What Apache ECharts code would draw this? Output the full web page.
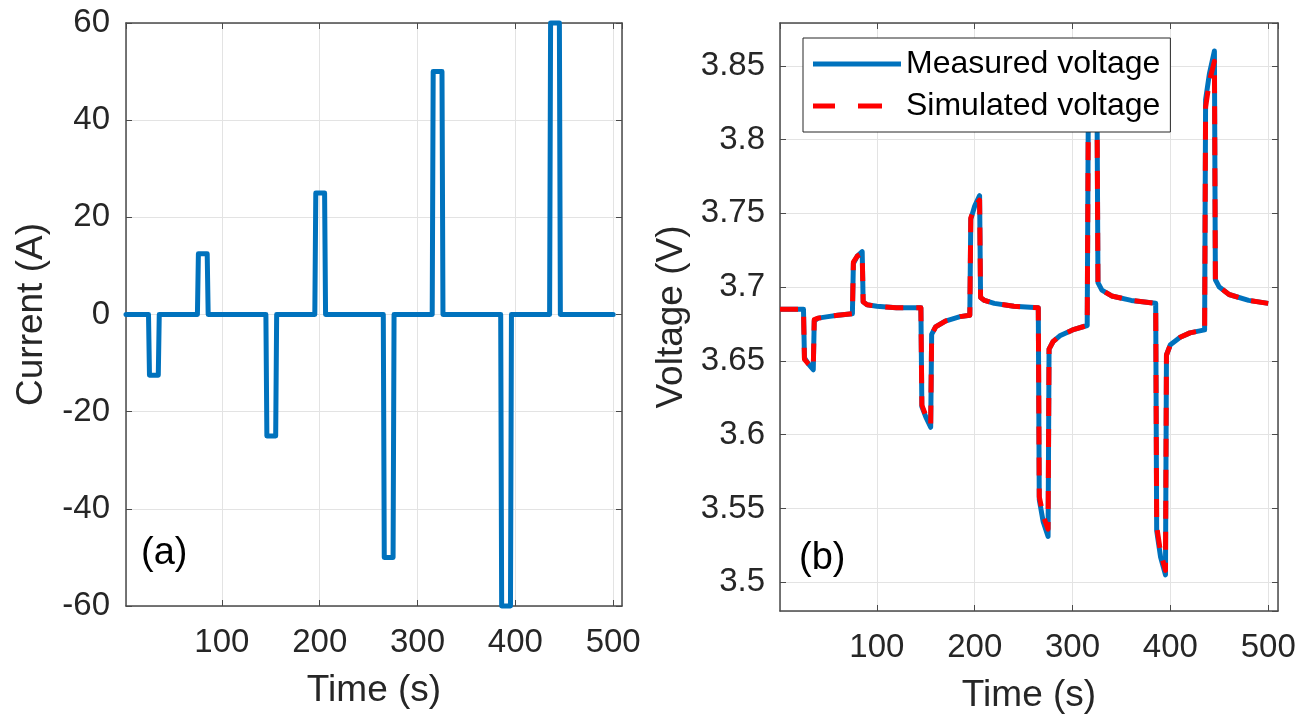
<!DOCTYPE html>
<html>
<head>
<meta charset="utf-8">
<script src="https://cdn.jsdelivr.net/npm/echarts@6/dist/echarts.min.js"></script>
<style>
  html, body { margin: 0; padding: 0; background: #fff; }
  #chart { width: 1309px; height: 723px; }
</style>
</head>
<body>
<div id="chart"></div>
<script>
// ---- data ----
// (a) current pulse profile
const curTime  = [2, 25, 26, 35, 36, 75, 76, 85, 86, 145, 146, 155, 156, 195, 196, 205, 206,
                  265, 266, 275, 276, 315, 316, 325, 326, 385, 386, 395, 396, 435, 436, 445, 446, 500]
const curValue = [0, 0, -12.5, -12.5, 0, 0, 12.5, 12.5, 0, 0, -25, -25, 0, 0, 25, 25, 0,
                  0, -50, -50, 0, 0, 50, 50, 0, 0, -60, -60, 0, 0, 60, 60, 0, 0]

// (b) terminal voltage, measured vs simulated (same time stamps)
const voltTime = [1, 25, 26, 30, 35, 36, 40, 50, 60, 75, 76, 80, 85, 86, 90, 100, 120, 145,
                  146, 150, 155, 156, 160, 170, 185, 195, 196, 200, 205, 206, 210, 220, 240, 265,
                  266, 270, 275, 276, 280, 287, 300, 315, 316, 320, 325, 326, 330, 340, 360, 385,
                  386, 390, 395, 396, 400, 410, 420, 435, 436, 440, 445, 446, 450, 460, 480, 500]
const voltMeasured = [3.685, 3.685, 3.652, 3.648, 3.644, 3.677, 3.679, 3.680, 3.681, 3.682,
                      3.716, 3.721, 3.724, 3.690, 3.688, 3.687, 3.686, 3.686,
                      3.619, 3.612, 3.605, 3.668, 3.673, 3.677, 3.680, 3.681,
                      3.746, 3.755, 3.762, 3.693, 3.691, 3.689, 3.687, 3.686,
                      3.556, 3.541, 3.531, 3.658, 3.663, 3.667, 3.671, 3.674,
                      3.805, 3.818, 3.828, 3.703, 3.698, 3.694, 3.691, 3.689,
                      3.535, 3.517, 3.505, 3.654, 3.661, 3.666, 3.669, 3.671,
                      3.827, 3.845, 3.860, 3.705, 3.700, 3.695, 3.691, 3.689]
const voltSimulated = [3.685, 3.685, 3.651, 3.648, 3.645, 3.678, 3.679, 3.680, 3.681, 3.682,
                       3.717, 3.721, 3.723, 3.690, 3.688, 3.687, 3.686, 3.686,
                       3.620, 3.613, 3.607, 3.668, 3.673, 3.677, 3.680, 3.681,
                       3.747, 3.754, 3.759, 3.693, 3.691, 3.689, 3.687, 3.686,
                       3.558, 3.545, 3.536, 3.658, 3.663, 3.667, 3.671, 3.674,
                       3.803, 3.815, 3.824, 3.703, 3.698, 3.694, 3.691, 3.689,
                       3.538, 3.520, 3.508, 3.654, 3.661, 3.666, 3.669, 3.671,
                       3.822, 3.840, 3.853, 3.705, 3.700, 3.695, 3.691, 3.689]

const currentTicks = { min: -60, max: 60, interval: 20 }
const timeRangeA = [2, 509]
const timeRangeB = [1, 510]
const voltRange = [3.4805, 3.879]

// ---- styling ----
const FONT = "'Liberation Sans', Arial, Helvetica, sans-serif"
const TEXT = '#262626'
const BLUE = '#0072BD'
const RED = '#FF0000'
const LW = 5

// legend glyphs: solid bar / two dashes (last zero-width stub keeps the full width)
const ICON_SOLID = 'path://M0,0H88V5H0Z'
const ICON_DASH = 'path://M0,0H22V5H0Z M45,0H69V5H45Z M88,0L88,5'

const pair = (xs, ys) => xs.map((x, i) => [x, ys[i]])

const axisLine = { show: true, onZero: false, lineStyle: { color: '#4a4a4a', width: 1.5 } }
const tick = { show: true, inside: true, length: 6, lineStyle: { color: '#4a4a4a', width: 1 } }
const grid = { show: true, lineStyle: { color: '#e3e3e3', width: 1 } }

function timeAxis(gridIndex, range, position) {
  const main = position === 'bottom'
  return {
    type: 'value', gridIndex, position,
    min: range[0], max: range[1], splitNumber: 5,
    name: main ? 'Time (s)' : '', nameLocation: 'middle', nameGap: 66,
    nameTextStyle: { fontFamily: FONT, fontSize: 37, color: TEXT },
    axisLine, axisTick: tick,
    axisLabel: {
      show: main, margin: 20, fontFamily: FONT, fontSize: 33, color: TEXT,
      showMinLabel: false, showMaxLabel: false
    },
    splitLine: main ? grid : { show: false }
  }
}

const chart = echarts.init(document.getElementById('chart'), null, { renderer: 'canvas' })

chart.setOption({
  animation: false,
  backgroundColor: '#fff',
  textStyle: { fontFamily: FONT },
  grid: [
    { left: 126, top: 23, width: 496, height: 583 },
    { left: 780, top: 23, width: 498, height: 588 }
  ],
  xAxis: [
    timeAxis(0, timeRangeA, 'bottom'),
    timeAxis(0, timeRangeA, 'top'),
    timeAxis(1, timeRangeB, 'bottom'),
    timeAxis(1, timeRangeB, 'top')
  ],
  yAxis: [
    {
      type: 'value', gridIndex: 0, position: 'left', ...currentTicks,
      name: 'Current (A)', nameLocation: 'middle', nameGap: 76,
      nameTextStyle: { fontFamily: FONT, fontSize: 37, color: TEXT },
      axisLine, axisTick: tick,
      axisLabel: { margin: 16, fontFamily: FONT, fontSize: 33, color: TEXT },
      splitLine: grid
    },
    {
      type: 'value', gridIndex: 0, position: 'right', ...currentTicks,
      axisLine, axisTick: tick, axisLabel: { show: false }, splitLine: { show: false }
    },
    {
      type: 'value', gridIndex: 1, position: 'left',
      min: voltRange[0], max: voltRange[1], splitNumber: 8,
      name: 'Voltage (V)', nameLocation: 'middle', nameGap: 90,
      nameTextStyle: { fontFamily: FONT, fontSize: 37, color: TEXT },
      axisLine, axisTick: tick,
      axisLabel: {
        margin: 15, fontFamily: FONT, fontSize: 33, color: TEXT,
        showMinLabel: false, showMaxLabel: false
      },
      splitLine: grid
    },
    {
      type: 'value', gridIndex: 1, position: 'right',
      min: voltRange[0], max: voltRange[1], splitNumber: 8,
      axisLine, axisTick: tick, axisLabel: { show: false }, splitLine: { show: false }
    }
  ],
  legend: {
    orient: 'vertical', left: 803, top: 38,
    padding: [8, 10, 8, 10], itemGap: 6,
    itemWidth: 88, itemHeight: 5,
    backgroundColor: '#fff', borderColor: '#262626', borderWidth: 1, borderRadius: 0,
    textStyle: { fontFamily: FONT, fontSize: 32, color: '#000', lineHeight: 36 },
    data: [
      { name: 'Measured voltage', icon: ICON_SOLID },
      { name: 'Simulated voltage', icon: ICON_DASH }
    ]
  },
  graphic: [
    { type: 'text', left: 141, top: 535, style: { text: '(a)', font: '38px ' + FONT, fill: '#000' } },
    { type: 'text', left: 799, top: 540, style: { text: '(b)', font: '38px ' + FONT, fill: '#000' } }
  ],
  series: [
    {
      name: 'Current', type: 'line', xAxisIndex: 0, yAxisIndex: 0,
      data: pair(curTime, curValue), symbol: 'none', clip: false,
      lineStyle: { color: BLUE, width: LW, join: 'round', cap: 'round' }
    },
    {
      name: 'Measured voltage', type: 'line', xAxisIndex: 2, yAxisIndex: 2,
      data: pair(voltTime, voltMeasured), symbol: 'none', clip: false,
      itemStyle: { color: BLUE },
      lineStyle: { color: BLUE, width: LW, join: 'round' }
    },
    {
      name: 'Simulated voltage', type: 'line', xAxisIndex: 2, yAxisIndex: 2,
      data: pair(voltTime, voltSimulated), symbol: 'none', clip: false,
      itemStyle: { color: RED },
      lineStyle: { color: RED, width: LW, type: [18, 13], join: 'round' }
    }
  ]
})
</script>
</body>
</html>
